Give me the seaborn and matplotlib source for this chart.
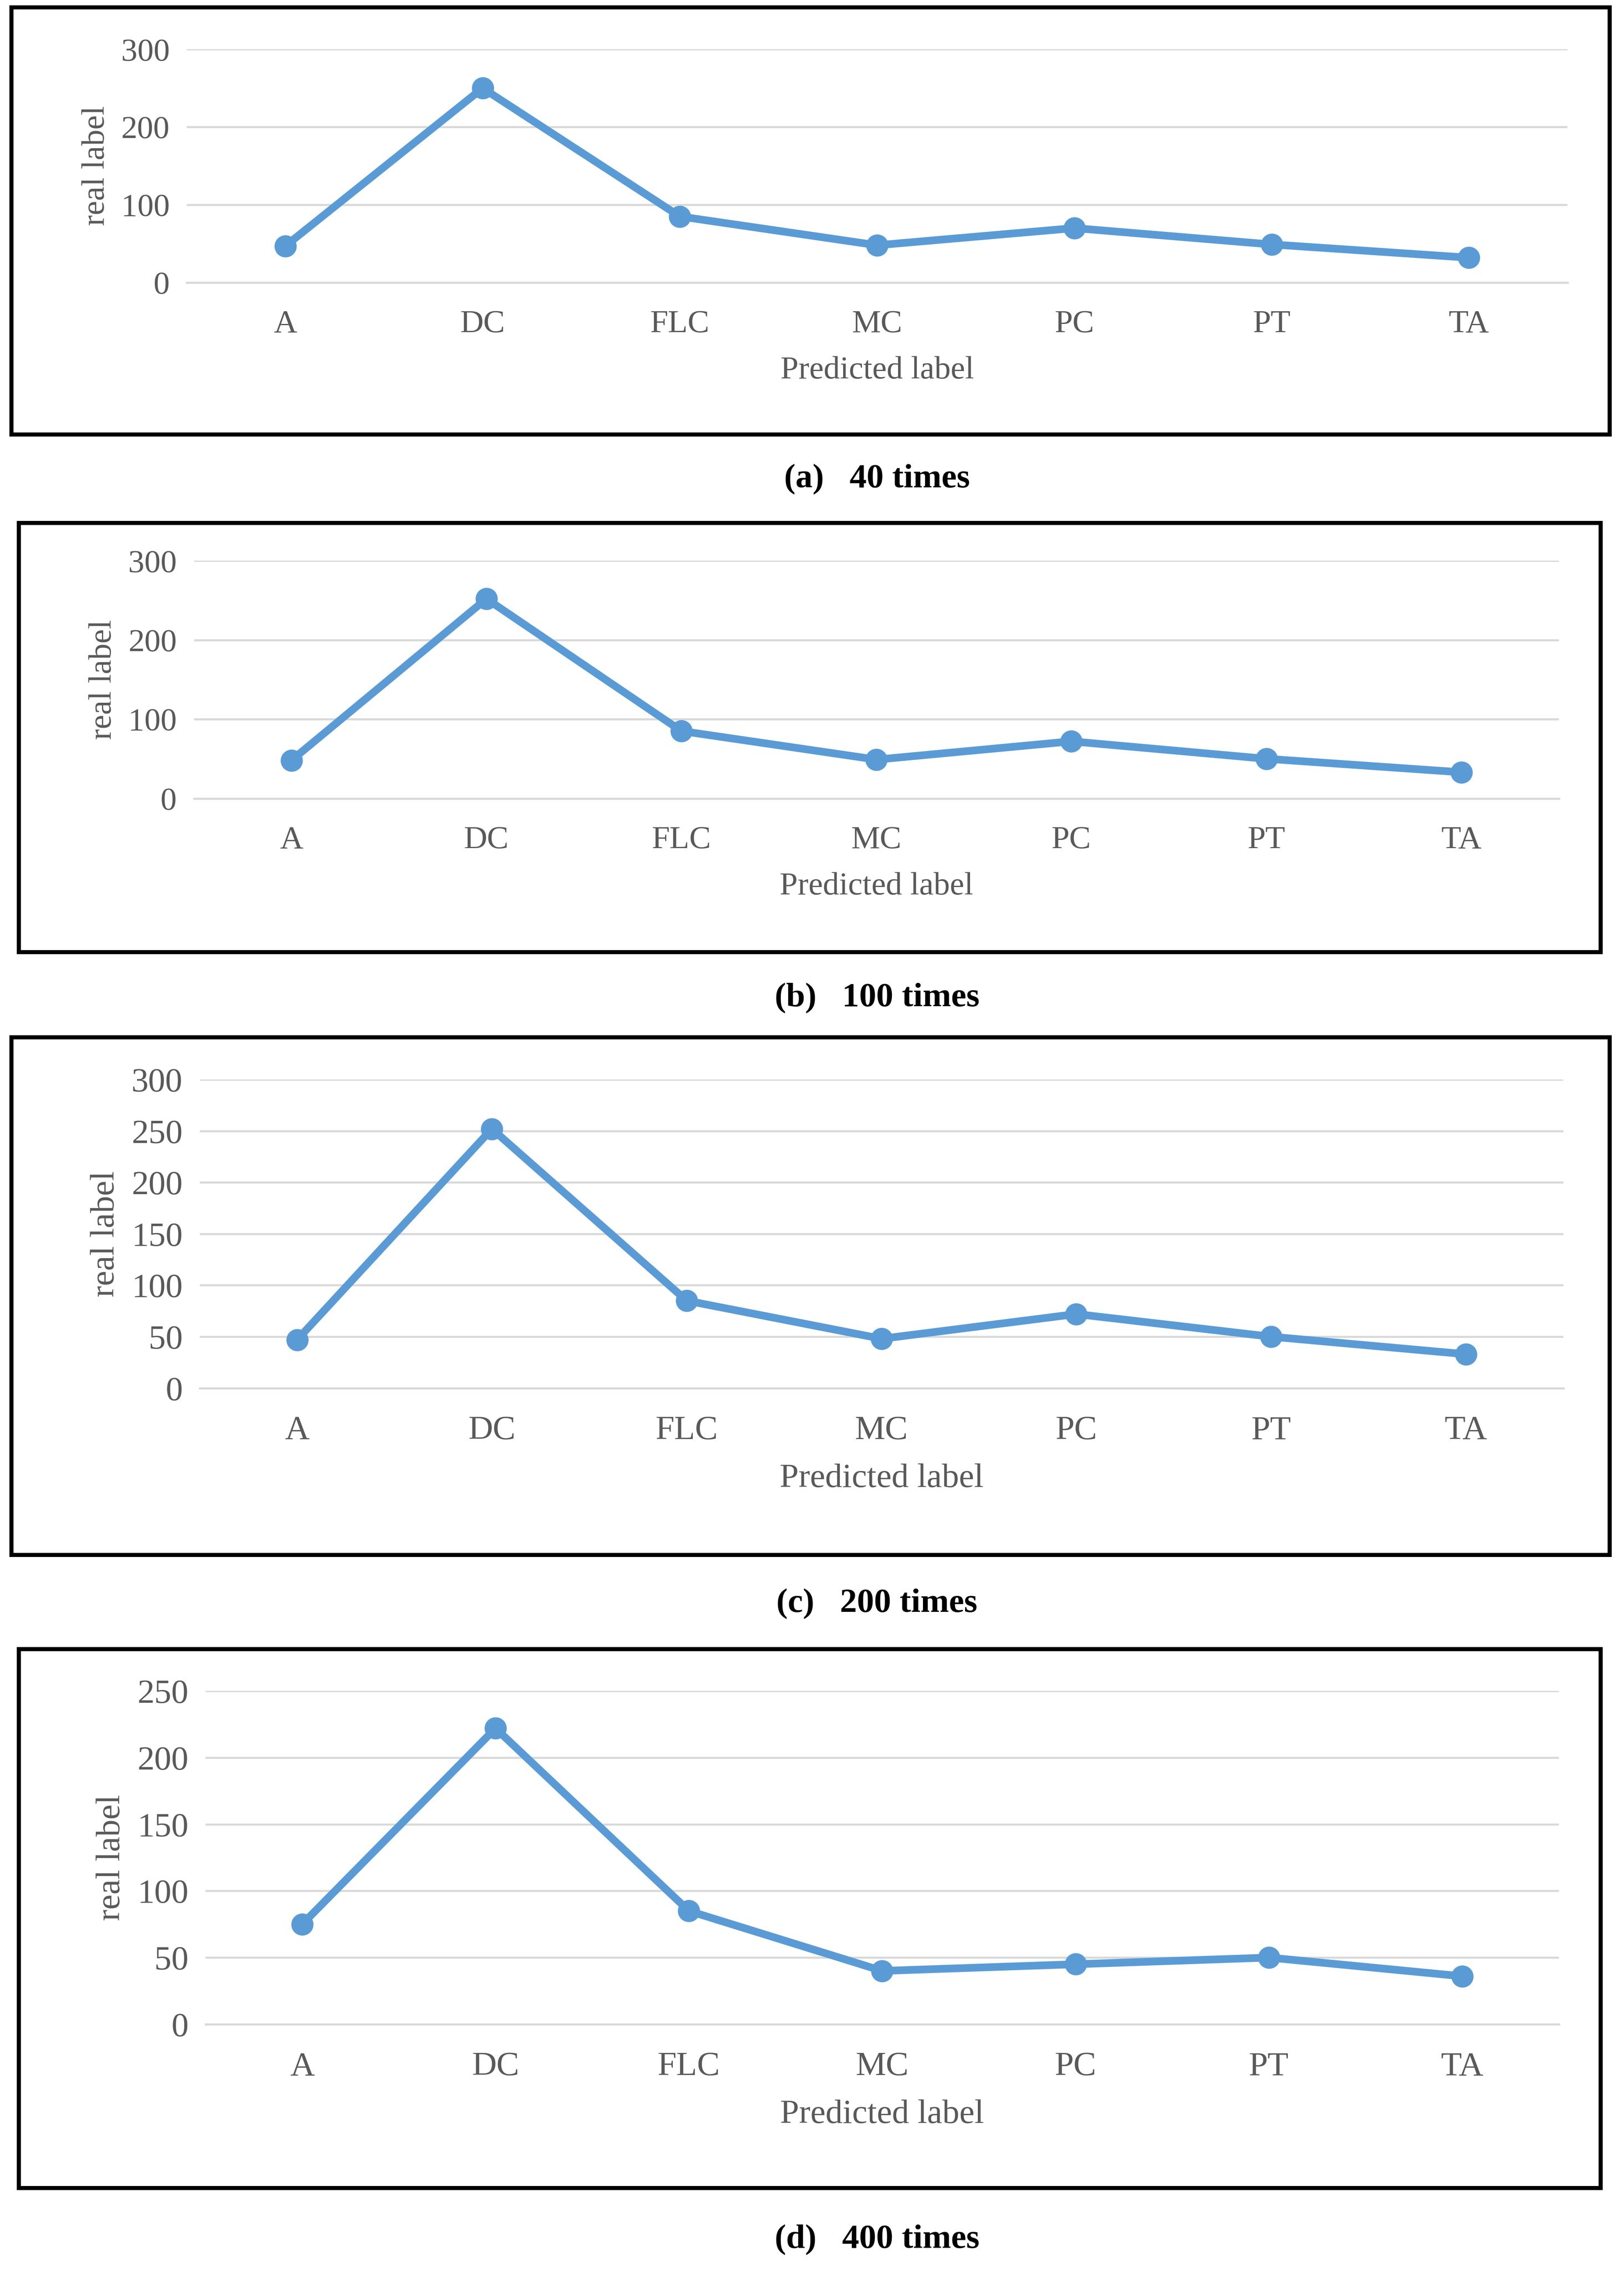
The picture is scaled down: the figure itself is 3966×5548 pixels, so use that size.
import matplotlib.pyplot as plt
import seaborn as sns
from matplotlib.patches import Rectangle

sns.set_theme(style="white")
plt.rcParams['font.family'] = 'Liberation Serif'

categories = ['A', 'DC', 'FLC', 'MC', 'PC', 'PT', 'TA']
values_40 = [47, 250, 85, 48, 70, 49, 32]
values_100 = [48, 252, 85, 49, 72, 50, 33]
values_200 = [47, 252, 85, 48, 72, 50, 33]
values_400 = [75, 222, 85, 40, 45, 50, 36]
captions = ['(a)   40 times', '(b)   100 times', '(c)   200 times', '(d)   400 times']

W, H = 1122, 1568
# (box x0, y0, x1, y1), (axes left, right, y-zero, y-top), y max, y step
panels = [
    (values_40, (8, 5, 1112, 300), (129, 1083, 195, 34), 300, 100, 331, 19),
    (values_100, (13, 361, 1106, 657), (134, 1077, 551, 387), 300, 100, 689, 19),
    (values_200, (8, 716, 1112, 1073), (138, 1080, 958, 745), 300, 50, 1107, 20),
    (values_400, (13, 1138, 1106, 1510), (142, 1077, 1397, 1167), 250, 50, 1546, 20),
]

fig = plt.figure(figsize=(3966 / 300, 5548 / 300), dpi=300)
grey = '#595959'

for (vals, box, ax_pos, ymax, ystep, cap_y, fs), cap in zip(panels, captions):
    x0, y0, x1, y1 = box
    fig.add_artist(Rectangle((x0 / W, 1 - y1 / H), (x1 - x0) / W, (y1 - y0) / H,
                             transform=fig.transFigure, fill=False,
                             edgecolor='black', linewidth=2.4))
    l, r, yb, yt = ax_pos
    ax = fig.add_axes([l / W, 1 - yb / H, (r - l) / W, (yb - yt) / H])
    sns.lineplot(x=list(range(len(categories))), y=vals, ax=ax, color='#5B9BD5',
                 linewidth=4.5, marker='o', markersize=13, markeredgewidth=0)
    ax.set_xlim(-0.5, len(categories) - 0.5)
    ax.set_ylim(0, ymax)
    ax.set_yticks(range(0, ymax + 1, ystep))
    ax.set_xticks(range(len(categories)))
    ax.set_xticklabels(categories)
    ax.yaxis.grid(True, color='#D9D9D9', linewidth=1.2)
    ax.xaxis.grid(False)
    for s in ax.spines.values():
        s.set_visible(False)
    ax.spines['bottom'].set_visible(True)
    ax.spines['bottom'].set_color('#D9D9D9')
    ax.tick_params(axis='x', colors=grey, labelsize=fs, length=0, pad=16)
    ax.tick_params(axis='y', colors=grey, labelsize=fs, length=0, pad=10)
    ax.set_xlabel('Predicted label', color=grey, fontsize=fs, labelpad=10)
    ax.set_ylabel('real label', color=grey, fontsize=fs, labelpad=6)
    ax.set_facecolor('none')
    fig.text(0.54, 1 - cap_y / H, cap, ha='center', va='center',
             fontsize=20, fontweight='bold', color='black')

fig.savefig('out.png', dpi=300, facecolor='white')
